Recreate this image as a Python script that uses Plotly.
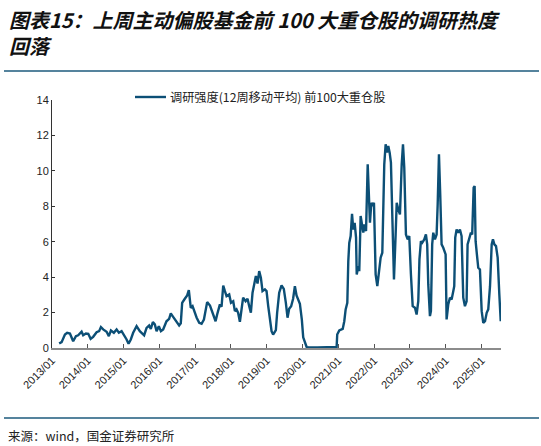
import plotly.graph_objects as go

# 调研强度(12周移动平均)，前100大重仓股，读图估计
DATES = [
    '2013-03-15', '2013-04-09', '2013-05-13', '2013-06-05', '2013-07-03', '2013-08-05',
    '2013-09-02', '2013-09-25', '2013-10-30', '2013-11-15', '2013-12-13',
    '2014-01-06', '2014-01-30', '2014-02-25', '2014-04-01', '2014-04-27', '2014-05-15',
    '2014-06-07', '2014-07-12', '2014-08-04', '2014-08-25', '2014-09-24', '2014-10-22',
    '2014-11-14', '2014-12-12',
    '2015-01-05', '2015-02-01', '2015-02-21', '2015-03-16', '2015-04-09', '2015-05-14',
    '2015-06-16', '2015-07-30', '2015-08-24', '2015-09-19', '2015-10-06', '2015-10-27',
    '2015-11-16', '2015-12-04', '2015-12-27',
    '2016-01-17', '2016-02-09', '2016-03-14', '2016-04-10', '2016-04-27', '2016-05-21',
    '2016-06-24', '2016-07-21', '2016-08-07', '2016-08-21', '2016-09-17', '2016-10-11',
    '2016-10-28', '2016-11-07', '2016-11-17', '2016-12-05', '2016-12-21',
    '2017-01-16', '2017-02-11', '2017-03-07', '2017-03-31', '2017-04-20', '2017-05-03',
    '2017-06-01', '2017-06-28', '2017-07-14', '2017-07-28', '2017-08-13', '2017-09-10',
    '2017-09-27', '2017-10-14', '2017-10-31', '2017-11-17', '2017-12-14',
    '2018-01-01', '2018-01-24', '2018-02-10', '2018-02-27', '2018-03-15', '2018-04-02',
    '2018-04-19', '2018-05-05', '2018-05-30', '2018-06-19', '2018-07-06', '2018-07-23',
    '2018-08-09', '2018-08-26', '2018-09-12', '2018-09-29', '2018-10-16', '2018-11-02',
    '2018-11-19', '2018-12-13', '2018-12-30',
    '2019-01-16', '2019-02-02', '2019-02-19', '2019-03-07', '2019-04-04', '2019-04-17',
    '2019-05-08', '2019-06-01', '2019-06-24', '2019-07-15', '2019-08-01', '2019-08-18',
    '2019-09-07', '2019-09-27', '2019-10-15', '2019-11-01', '2019-11-17', '2019-12-05',
    '2019-12-25',
    '2020-01-08', '2020-02-11', '2020-02-27', '2020-06-01', '2020-09-01', '2020-12-14',
    '2020-12-20',
    '2021-01-10', '2021-02-14', '2021-03-02', '2021-03-16', '2021-04-02', '2021-04-12',
    '2021-04-22', '2021-05-06', '2021-05-20', '2021-06-02', '2021-06-16', '2021-06-30',
    '2021-07-07', '2021-07-23', '2021-08-02', '2021-08-16', '2021-08-30', '2021-09-12',
    '2021-09-22', '2021-10-10', '2021-10-27', '2021-11-09', '2021-11-19', '2021-12-03',
    '2021-12-17', '2021-12-30',
    '2022-01-16', '2022-02-02', '2022-02-19', '2022-03-08', '2022-03-25', '2022-04-04',
    '2022-04-14', '2022-04-28', '2022-05-12', '2022-05-25', '2022-06-08', '2022-06-21',
    '2022-07-09', '2022-07-22', '2022-08-08', '2022-08-19', '2022-09-04', '2022-09-21',
    '2022-10-09', '2022-10-22', '2022-11-04', '2022-11-21', '2022-12-09', '2022-12-25',
    '2023-01-11', '2023-01-29', '2023-02-21', '2023-03-10', '2023-03-27', '2023-04-08',
    '2023-04-23', '2023-05-06', '2023-05-27', '2023-06-13', '2023-06-26', '2023-07-07',
    '2023-07-24', '2023-08-03', '2023-08-16', '2023-08-27', '2023-09-13', '2023-09-30',
    '2023-10-11', '2023-10-24', '2023-11-06', '2023-11-20', '2023-12-07', '2023-12-31',
    '2024-01-10', '2024-01-27', '2024-02-13', '2024-03-01', '2024-03-18', '2024-03-28',
    '2024-04-07', '2024-04-21', '2024-05-08', '2024-05-25', '2024-06-11', '2024-06-28',
    '2024-07-15', '2024-08-01', '2024-08-11', '2024-08-28', '2024-09-14', '2024-09-27',
    '2024-10-12', '2024-10-22', '2024-11-01', '2024-11-14', '2024-11-28', '2024-12-15',
    '2025-01-02', '2025-01-18', '2025-02-05', '2025-02-22', '2025-03-10', '2025-03-28',
    '2025-04-14', '2025-04-27', '2025-05-11', '2025-05-28', '2025-06-14', '2025-07-01',
    '2025-07-15',
]
VALUES = [
    0.25, 0.33, 0.76, 0.86, 0.82, 0.38,
    0.67, 0.72, 0.92, 0.72, 0.82,
    0.80, 0.52, 0.63, 0.89, 0.95, 1.18,
    1.05, 0.92, 0.67, 0.99, 0.86, 1.05,
    0.86, 0.95,
    0.76, 0.48, 0.24, 0.48, 0.86, 1.23,
    0.95, 0.72, 1.14, 1.27, 1.08, 1.46,
    1.33, 0.95, 1.23,
    0.95, 1.05, 1.51, 1.65, 1.95, 1.76,
    1.51, 1.27, 1.40, 2.55, 2.78, 2.97,
    3.27, 2.80, 2.27, 2.36, 2.08,
    1.71, 1.42, 1.37, 1.61, 2.18, 2.59,
    2.40, 1.99, 1.80, 1.51, 1.89, 2.46,
    2.33, 3.53, 3.21, 2.93, 3.02,
    2.55, 2.64, 2.08, 2.18, 1.99, 1.48,
    2.08, 2.84, 2.64, 2.78, 2.36, 1.99,
    3.12, 3.72, 4.06, 3.64, 4.34, 3.97,
    3.21, 3.31, 3.21,
    2.36, 1.61, 0.95, 0.76, 1.01, 1.99,
    3.12, 3.53, 3.34, 2.55, 1.71, 2.21,
    2.36, 2.78, 3.49, 2.97, 2.78, 2.50,
    1.60,
    0.60, 0.07, 0.03, 0.03, 0.04, 0.06,
    0.76,
    0.99, 1.08, 1.51, 2.18, 2.55, 4.90,
    5.94, 6.32, 7.58, 6.69, 7.07, 6.23,
    4.15, 4.62, 4.34, 7.45, 7.07, 6.51,
    6.98, 6.60, 10.37, 8.95, 7.07, 8.20,
    8.01, 8.20,
    4.15, 3.49, 4.43, 5.10, 5.38, 7.54,
    10.37, 11.50, 11.03, 11.40, 11.03, 10.46,
    7.36, 3.87, 6.41, 8.20, 7.83, 7.54,
    10.37, 11.50, 10.18, 6.41, 6.13, 6.32,
    4.15, 2.36, 2.27, 1.89, 2.64, 5.00,
    6.03, 5.94, 6.13, 6.41, 5.85, 3.59,
    1.80, 2.08, 5.85, 6.51, 6.13, 6.41,
    8.11, 10.93, 8.67, 5.85, 5.66, 5.28,
    1.61, 2.46, 2.84, 2.74, 3.21, 3.49,
    6.23, 6.69, 6.51, 6.69, 6.32, 2.84,
    2.36, 2.64, 5.85, 6.23, 6.51, 6.41,
    9.05, 9.14, 6.03, 5.28, 4.53, 4.43,
    2.08, 1.42, 1.51, 1.99, 2.18, 3.49,
    5.85, 6.13, 5.85, 5.75, 5.10, 3.02,
    1.51,
]
SERIES_NAME = '调研强度(12周移动平均) 前100大重仓股'
TITLE = '图表15：上周主动偏股基金前 100 大重仓股的调研热度<br>回落'
SOURCE = '来源：wind，国金证券研究所'
Y_TICKS = [0, 2, 4, 6, 8, 10, 12, 14]

LINE_COLOR = '#0c4f76'
RULE_COLOR = '#1d5a7c'
CJK = 'Noto Sans CJK SC'

W, H = 541, 446
L, R, T, B = 52, 40, 100, 98
PH = H - T - B   # plot height in px
PW = W - L - R


def px_x(px):
    # pixel x -> paper x
    return (px - L) / PW


def px_y(py):
    # pixel y -> paper y
    return (H - B - py) / PH


fig = go.Figure()
fig.add_trace(go.Scatter(
    x=DATES, y=VALUES, mode='lines', name=SERIES_NAME,
    line=dict(color=LINE_COLOR, width=2.4),
))

fig.update_layout(
    width=W, height=H,
    margin=dict(l=L, r=R, t=T, b=B, autoexpand=False),
    paper_bgcolor='white', plot_bgcolor='white',
    showlegend=False,
    font=dict(family='Liberation Sans, Arial', size=11, color='#222'),
)
fig.update_xaxes(
    type='date', range=['2013-01-01', '2025-07-18'],
    tick0='2013-01-01', dtick='M12', tickformat='%Y/%m', tickangle=-45,
    showgrid=False, zeroline=False, automargin=False,
    showline=True, linecolor='#8c8c8c', linewidth=1.5,
    ticks='inside', ticklen=4, tickcolor='#555',
    tickfont=dict(size=11, color='#222'),
)
fig.update_yaxes(
    range=[0, 14], tickvals=Y_TICKS,
    showgrid=False, zeroline=False, automargin=False,
    showline=True, linecolor='#333', linewidth=1,
    ticks='inside', ticklen=3, tickcolor='#333',
    tickfont=dict(size=11, color='#222'),
)

# 图例（手动绘制）
fig.add_shape(type='line', xref='paper', yref='paper',
              x0=px_x(135), x1=px_x(166), y0=px_y(97), y1=px_y(97),
              line=dict(color=LINE_COLOR, width=2.4))
fig.add_annotation(
    text=SERIES_NAME, xref='paper', yref='paper', x=px_x(168), y=px_y(97),
    xanchor='left', yanchor='middle', showarrow=False,
    font=dict(family=CJK, size=12.2, color='#222'),
)

# 标题与来源
fig.add_annotation(
    text=TITLE, xref='paper', yref='paper', x=px_x(7), y=px_y(32),
    xanchor='left', yanchor='middle', align='left', showarrow=False,
    font=dict(family=CJK, size=20, color='#111', weight='bold', style='italic'),
)
fig.add_annotation(
    text=SOURCE, xref='paper', yref='paper', x=px_x(6), y=px_y(435),
    xanchor='left', yanchor='middle', showarrow=False,
    font=dict(family=CJK, size=12.5, color='#222'),
)
for py in [71, 418]:
    fig.add_shape(type='line', xref='paper', yref='paper',
                  x0=px_x(4), x1=px_x(539), y0=px_y(py), y1=px_y(py),
                  line=dict(color=RULE_COLOR, width=1.5))

fig.write_html("out.html", config={'displayModeBar': False},
               post_script="document.body.style.margin='0';")
